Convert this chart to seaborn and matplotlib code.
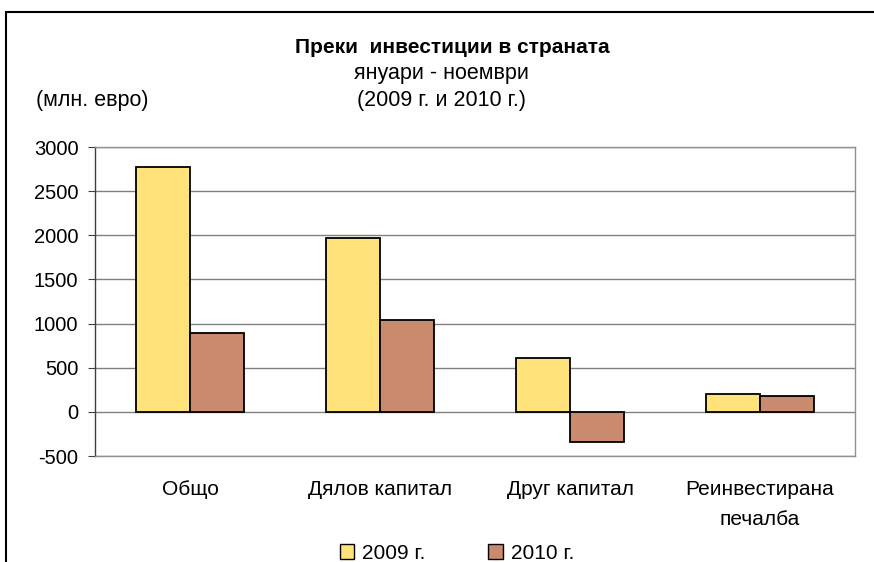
import pandas as pd
import numpy as np
import matplotlib.pyplot as plt
import seaborn as sns
from matplotlib.patches import Rectangle, Patch

# Данни (млн. евро)
categories = ['Общо', 'Дялов капитал', 'Друг капитал', 'Реинвестирана\nпечалба']
years = ['2009 г.', '2010 г.']
values_2009 = [2773, 1966, 614, 205]
values_2010 = [898, 1040, -340, 182]
colors = ['#FFE27A', '#C98A6E']

data = pd.DataFrame({
    'Категория': categories * 2,
    'Година': [years[0]] * len(categories) + [years[1]] * len(categories),
    'Стойност': values_2009 + values_2010,
})

sns.set_style('white')
plt.rcParams['font.family'] = ['Liberation Sans', 'DejaVu Sans']
plt.rcParams['text.color'] = 'black'
plt.rcParams['xtick.color'] = 'black'
plt.rcParams['ytick.color'] = 'black'
plt.rcParams['axes.unicode_minus'] = False

fig = plt.figure(figsize=(8.74, 5.62), dpi=100)
ax = fig.add_axes([0.1087, 0.1886, 0.8696, 0.5498])

sns.barplot(data=data, x='Категория', y='Стойност', hue='Година',
            palette=colors, saturation=1, width=0.57, edgecolor='black',
            linewidth=1.3, ax=ax, legend=False, zorder=3)

ax.set_ylim(-500, 3000)
ax.set_yticks(np.arange(-500, 3001, 500))
ax.yaxis.grid(True, color='#808080', linewidth=1, zorder=0)
ax.set_axisbelow(True)
for s in ax.spines.values():
    s.set_visible(True)
    s.set_color('#909090')
    s.set_linewidth(1)
ax.spines['left'].set_color('#404040')

ax.tick_params(axis='y', labelsize=14.5, length=5, color='#404040', direction='out', left=True, pad=7)
ax.tick_params(axis='x', labelsize=15, length=0, pad=17)
for lbl in ax.get_xticklabels():
    lbl.set_linespacing(1.75)
ax.set_xlabel('')
ax.set_ylabel('')

# Заглавия
fig.text(0.517, 0.915, 'Преки  инвестиции в страната', ha='center', va='center',
         fontsize=15, fontweight='bold')
fig.text(0.505, 0.869, 'януари - ноември', ha='center', va='center', fontsize=15.5)
fig.text(0.505, 0.822, '(2009 г. и 2010 г.)', ha='center', va='center', fontsize=15.5)
fig.text(0.041, 0.822, '(млн. евро)', ha='left', va='center', fontsize=15.5)

# Легенда
handles = [Patch(facecolor=c, edgecolor='black', linewidth=1) for c in colors]
fig.legend(handles, years, loc='center', bbox_to_anchor=(0.523, 0.016), ncol=2,
           frameon=False, fontsize=15, handlelength=0.7, handleheight=0.7,
           handletextpad=0.4, columnspacing=3.0)

# Рамка на диаграмата
frame = Rectangle((0.007, -0.02), 1.05, (562 - 12) / 562 + 0.02,
                  transform=fig.transFigure, fill=False,
                  edgecolor='black', linewidth=1.5, clip_on=False)
fig.patches.append(frame)

fig.savefig('out.png', dpi=100)
